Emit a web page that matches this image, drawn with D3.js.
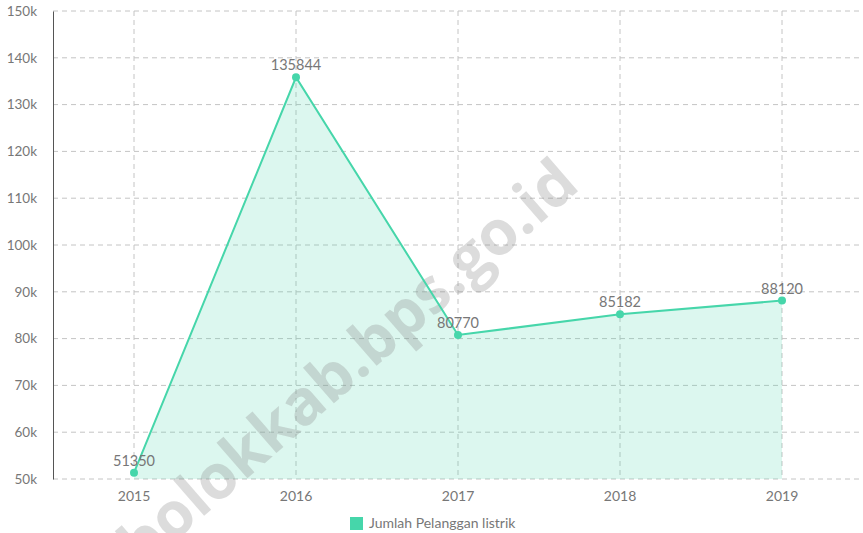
<!DOCTYPE html>
<html>
<head>
<meta charset="utf-8">
<script src="https://cdn.jsdelivr.net/npm/d3@7"></script>
<style>
  body { margin: 0; background: #fff; }
  svg text { font-family: Lato, "Open Sans", sans-serif; }
</style>
</head>
<body>
<div class="graph"></div>
<script>
const years = ["2015", "2016", "2017", "2018", "2019"];
const customers = [51350, 135844, 80770, 85182, 88120];
const yTicks = [50000, 60000, 70000, 80000, 90000, 100000, 110000, 120000, 130000, 140000, 150000];
const seriesName = "Jumlah Pelanggan listrik";

const width = 863, height = 533;
const margins = { top: 11, right: 0, bottom: 54, left: 53 };

const svg = d3.select(".graph").append("svg")
  .attr("width", width)
  .attr("height", height);

const x = d3.scaleBand().domain(years)
  .range([margins.left, width - margins.right]);
const y = d3.scaleLinear().domain([50000, 150000])
  .range([height - margins.bottom, margins.top]);
const cx = (d) => x(d) + x.bandwidth() / 2;

// grid
svg.append("g").selectAll("line.h").data(yTicks).enter().append("line")
  .attr("x1", margins.left).attr("x2", width)
  .attr("y1", (d) => y(d)).attr("y2", (d) => y(d))
  .attr("stroke", "#c4c4c4").attr("stroke-dasharray", "5,4");

svg.append("g").selectAll("line.v").data(years).enter().append("line")
  .attr("x1", cx).attr("x2", cx)
  .attr("y1", margins.top).attr("y2", y(50000))
  .attr("stroke", "#c4c4c4").attr("stroke-dasharray", "5,4");

// area + line
const data = years.map((yr, i) => ({ year: yr, value: customers[i] }));
const area = d3.area().x((d) => cx(d.year)).y0(y(50000)).y1((d) => y(d.value));
const line = d3.line().x((d) => cx(d.year)).y((d) => y(d.value));

svg.append("path").datum(data).attr("d", area)
  .attr("fill", "#4ed8b0").attr("fill-opacity", 0.2);

// watermark (behind the labels)
svg.append("text")
  .attr("transform", "translate(142,570) rotate(-41)")
  .attr("fill", "#8a8a8a").attr("fill-opacity", 0.3)
  .style("font-size", "62px").style("font-weight", "bold")
  .style("font-family", "'Open Sans', sans-serif")
  .text("bolokkab.bps.go.id");

// left axis
const yAxis = d3.axisLeft(y).tickValues(yTicks)
  .tickFormat((d) => d / 1000 + "k").tickSize(0).tickPadding(16);
const ya = svg.append("g").attr("transform", `translate(${margins.left},0)`).call(yAxis);
ya.select(".domain").attr("stroke", "#555");
ya.selectAll("text").attr("fill", "#777").style("font-size", "13.5px");

const xAxis = d3.axisBottom(x).tickSize(0).tickPadding(12);
const xa = svg.append("g").attr("transform", `translate(0,${y(50000)})`).call(xAxis);
xa.select(".domain").remove();
xa.selectAll("text").attr("fill", "#777").style("font-size", "14px");

svg.append("path").datum(data).attr("d", line)
  .attr("fill", "none").attr("stroke", "#46d6aa").attr("stroke-width", 2);

svg.selectAll("circle.pt").data(data).enter().append("circle")
  .attr("cx", (d) => cx(d.year)).attr("cy", (d) => y(d.value))
  .attr("r", 4).attr("fill", "#46d6aa");

svg.selectAll("text.lbl").data(data).enter().append("text")
  .attr("x", (d) => cx(d.year)).attr("y", (d) => y(d.value) - 7)
  .attr("text-anchor", "middle").attr("fill", "#777")
  .style("font-size", "14.5px").text((d) => d.value);

// legend
svg.append("rect").attr("x", 350).attr("y", 517).attr("width", 13).attr("height", 13)
  .attr("fill", "#46d6aa");
svg.append("text").attr("x", 369).attr("y", 528).attr("fill", "#777")
  .style("font-size", "14px").text(seriesName);
</script>
</body>
</html>
